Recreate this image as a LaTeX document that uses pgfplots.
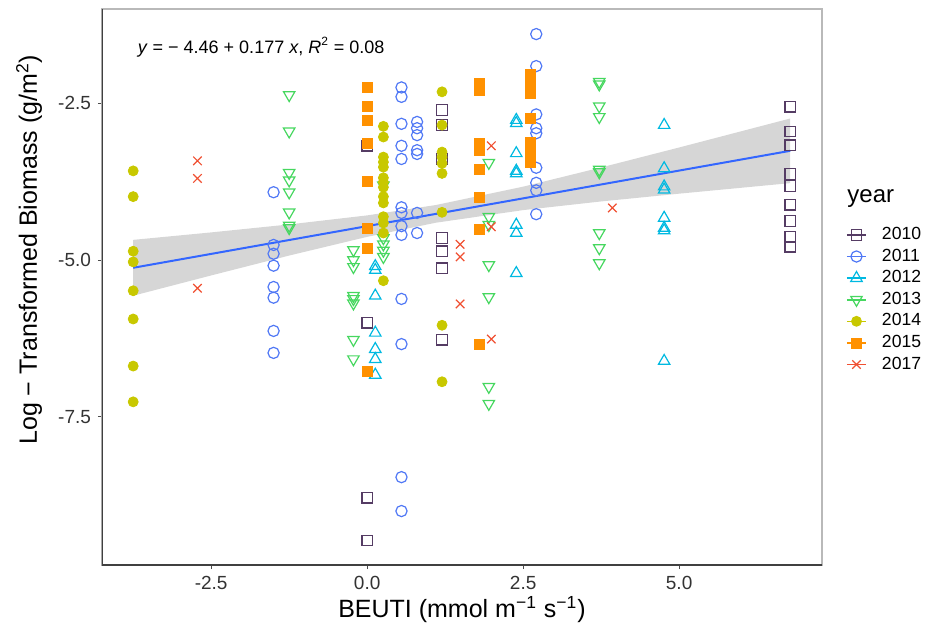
\documentclass[border=0pt]{standalone}
\usepackage{fontspec}
\setmainfont{Liberation Sans}
\usepackage{pgfplots}
\pgfplotsset{compat=1.18}

\definecolor{c2010}{RGB}{85,60,100}
\definecolor{c2011}{RGB}{80,120,245}
\definecolor{c2012}{RGB}{0,185,225}
\definecolor{c2013}{RGB}{70,215,95}
\definecolor{c2014}{RGB}{200,200,0}
\definecolor{c2015}{RGB}{255,145,0}
\definecolor{c2017}{RGB}{240,80,50}
\definecolor{fitblue}{RGB}{51,102,255}
\definecolor{band}{RGB}{153,153,153}

\begin{document}
\begin{tikzpicture}
\begin{axis}[
    scale only axis,
    width=360pt, height=278pt,
    xmin=-4.25, xmax=7.29,
    ymin=-9.86, ymax=-1.0,
    xtick={-2.5,0,2.5,5}, xticklabels={-2.5,0.0,2.5,5.0},
    ytick={-7.5,-5,-2.5}, yticklabels={-7.5,-5.0,-2.5},
    tick align=outside, tick pos=left,
    major tick length=2pt,
    tick style={black!70, line width=0.5pt},
    ticklabel style={font=\fontsize{9.5}{10}\selectfont, text=black!80},
    axis line style={gray!55, line width=0.6pt},
    xlabel={BEUTI (mmol m\textsuperscript{−1} s\textsuperscript{−1})},
    ylabel={Log − Transformed Biomass (g/m\textsuperscript{2})},
    label style={font=\fontsize{12.5}{14}\selectfont},
    xlabel style={at={(axis description cs:0.5,0)}, anchor=base, yshift=-26pt},
    ylabel style={at={(axis description cs:-0.0903,0.567)}, anchor=base},
    legend style={at={(axis description cs:1.0347,0.6194)}, anchor=north west,
        draw=none, fill=none, inner sep=0pt, outer sep=0pt, row sep=1.35pt,
        font=\fontsize{8.8}{8.8}\selectfont,
        nodes={inner sep=0pt, text height=6.3pt, text depth=0pt},
        /tikz/every odd column/.style={column sep=8pt}},
    legend cell align=left,
    legend image code/.code={
        \path[use as bounding box, draw=none, fill=none] (0pt,0pt) rectangle (9.5pt,6.3pt);
        \draw[#1, mark=none, sharp plot, line width=0.8pt] (0pt,-0.85pt) -- (9.5pt,-0.85pt);
        \draw[#1] plot coordinates {(4.75pt,-0.85pt)};
    },
]
% 2010
\addplot[only marks, mark=square, mark size=2.6pt, c2010, line width=0.6pt] coordinates {
(0,-3.18) (0,-6.0) (0,-8.79) (0,-9.47)
(1.2,-2.61) (1.2,-2.85) (1.2,-3.39) (1.2,-4.65) (1.2,-4.86) (1.2,-5.13) (1.2,-6.27)
(6.78,-2.56) (6.78,-2.95) (6.78,-3.17) (6.78,-3.63) (6.78,-3.82) (6.78,-4.12) (6.78,-4.38) (6.78,-4.63) (6.78,-4.79)
};
% 2011
\addplot[only marks, mark=o, mark size=2.8pt, c2011, line width=0.6pt] coordinates {
(-1.5,-3.92) (-1.5,-4.76) (-1.5,-4.90) (-1.5,-5.09) (-1.5,-5.43) (-1.5,-5.60) (-1.5,-6.13) (-1.5,-6.48)
(0.55,-2.25) (0.55,-2.40) (0.55,-2.83) (0.55,-3.18) (0.55,-3.39) (0.55,-4.16) (0.55,-4.25) (0.55,-4.46) (0.55,-4.60) (0.55,-5.62) (0.55,-6.34) (0.55,-8.46) (0.55,-9.0)
(0.8,-2.80) (0.8,-2.90) (0.8,-3.01) (0.8,-3.25) (0.8,-3.31) (0.8,-4.25) (0.8,-4.57)
(2.71,-1.40) (2.71,-1.91) (2.71,-2.68) (2.71,-2.90) (2.71,-2.98) (2.71,-3.53) (2.71,-3.77) (2.71,-3.89) (2.71,-4.27)
};
% 2012
\addplot[only marks, mark=triangle, mark size=3.3pt, c2012, line width=0.6pt] coordinates {
(0.13,-5.10) (0.13,-5.16) (0.13,-5.57) (0.13,-6.16) (0.13,-6.42) (0.13,-6.58) (0.13,-6.83)
(2.39,-2.77) (2.39,-2.82) (2.39,-3.30) (2.39,-3.58) (2.39,-3.62) (2.39,-4.44) (2.39,-4.57) (2.39,-5.21)
(4.76,-2.85) (4.76,-3.54) (4.76,-3.83) (4.76,-3.88) (4.76,-4.33) (4.76,-4.49) (4.76,-4.53) (4.76,-6.61)
};
% 2013
\addplot[only marks, mark=triangle, mark size=3.3pt, mark options={rotate=180}, c2013, line width=0.6pt] coordinates {
(-1.25,-2.37) (-1.25,-2.95) (-1.25,-3.61) (-1.25,-3.73) (-1.25,-3.92) (-1.25,-4.24) (-1.25,-4.45) (-1.25,-4.49)
(-0.22,-4.84) (-0.22,-5.0) (-0.22,-5.11) (-0.22,-5.57) (-0.22,-5.62) (-0.22,-5.69) (-0.22,-6.27) (-0.22,-6.58)
(0.26,-3.81) (0.26,-4.65) (0.26,-4.75) (0.26,-4.85) (0.26,-4.95)
(1.95,-3.45) (1.95,-4.31) (1.95,-4.44) (1.95,-5.08) (1.95,-5.59) (1.95,-7.02) (1.95,-7.29)
(3.72,-2.16) (3.72,-2.20) (3.72,-2.55) (3.72,-2.72) (3.72,-3.56) (3.72,-3.60) (3.72,-4.57) (3.72,-4.81) (3.72,-5.05)
};
% 2014
\addplot[only marks, mark=*, mark size=2.5pt, c2014] coordinates {
(-3.75,-3.58) (-3.75,-3.99) (-3.75,-4.86) (-3.75,-5.03) (-3.75,-5.49) (-3.75,-5.94) (-3.75,-6.69) (-3.75,-7.26)
(0.26,-2.87) (0.26,-3.04) (0.26,-3.36) (0.26,-3.44) (0.26,-3.52) (0.26,-3.69) (0.26,-3.76) (0.26,-3.84) (0.26,-3.99) (0.26,-4.09) (0.26,-4.31) (0.26,-4.41) (0.26,-4.57) (0.26,-5.33)
(1.2,-2.32) (1.2,-2.85) (1.2,-3.28) (1.2,-3.36) (1.2,-3.46) (1.2,-3.62) (1.2,-4.24) (1.2,-6.04) (1.2,-6.94)
};
% 2015
\addplot[only marks, mark=square*, mark size=2.5pt, c2015] coordinates {
(0,-2.25) (0,-2.56) (0,-2.77) (0,-3.14) (0,-3.74) (0,-4.49) (0,-4.82) (0,-6.78)
(1.8,-2.18) (1.8,-2.29) (1.8,-3.14) (1.8,-3.25) (1.8,-3.55) (1.8,-4.0) (1.8,-4.51) (1.8,-6.35)
(2.61,-2.05) (2.61,-2.2) (2.61,-2.35) (2.61,-2.74) (2.61,-3.12) (2.61,-3.28) (2.61,-3.45)
};
% 2017
\addplot[only marks, mark=x, mark size=3pt, c2017, line width=0.6pt] coordinates {
(-2.72,-3.42) (-2.72,-3.70) (-2.72,-5.45)
(1.49,-4.75) (1.49,-4.95) (1.49,-5.70)
(1.99,-3.18) (1.99,-4.47) (1.99,-6.26)
(3.93,-4.17)
};
\legend{2010,2011,2012,2013,2014,2015,2017}

% confidence band and fit
\addplot[forget plot, draw=none, fill=band, fill opacity=0.4] coordinates {
(-3.75,-4.679) (-2.5,-4.560) (-1.25,-4.433) (0,-4.289) (1.1,-4.124) (2.5,-3.831) (3.75,-3.525) (5,-3.207) (6.78,-2.745)
(6.78,-3.775) (5,-3.943) (3.75,-4.067) (2.5,-4.205) (1.1,-4.406) (0,-4.631) (-1.25,-4.929) (-2.5,-5.246) (-3.75,-5.569)
} -- cycle;
\addplot[forget plot, fitblue, line width=1pt] coordinates {(-3.75,-5.124) (6.78,-3.260)};

\draw[black!75, line width=1pt] (rel axis cs:0,1) -- (rel axis cs:0,0) -- (rel axis cs:1,0);
\node[anchor=west, font=\fontsize{9}{10}\selectfont] at (axis cs:-3.79,-1.61)
    {\textit{y} = − 4.46 + 0.177 \textit{x}, \textit{R}\textsuperscript{2} = 0.08};
\coordinate (yr) at (rel axis cs:1,0.6583);
\coordinate (bl) at (rel axis cs:0,0);
\coordinate (tr) at (rel axis cs:1,1);
\end{axis}
\node[anchor=west, inner sep=0pt, font=\fontsize{12}{12}\selectfont] at ([xshift=12.5pt]yr) {year};
\pgfresetboundingbox
\path ([shift={(-51pt,-34pt)}]bl) rectangle ([shift={(56.5pt,4.5pt)}]tr);
\end{tikzpicture}
\end{document}
